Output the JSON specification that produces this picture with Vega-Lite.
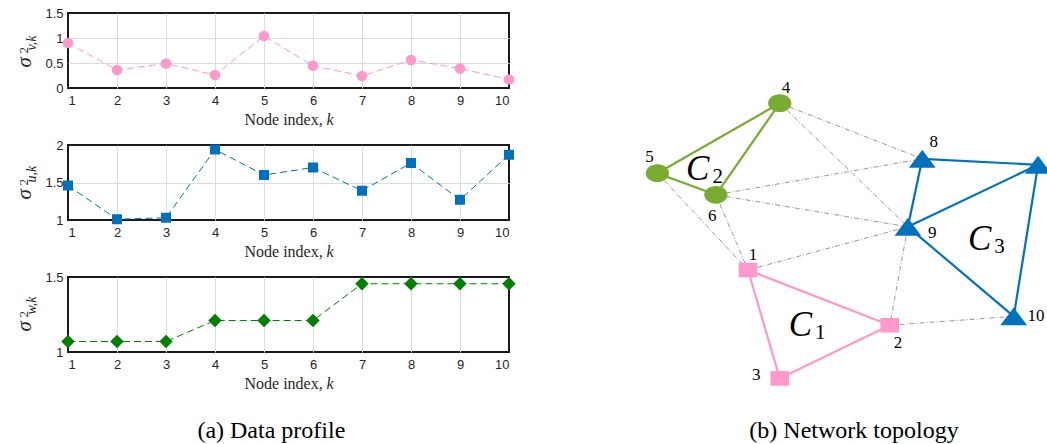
{
  "$schema": "https://vega.github.io/schema/vega-lite/v6.json",
  "padding": {"left": 12, "top": 6, "right": 0, "bottom": 0},
  "spacing": 121,
  "datasets": {
    "profile": [
      {"k": 1, "v": 0.90, "u": 1.46, "w": 1.07},
      {"k": 2, "v": 0.36, "u": 1.01, "w": 1.07},
      {"k": 3, "v": 0.49, "u": 1.03, "w": 1.07},
      {"k": 4, "v": 0.26, "u": 1.94, "w": 1.21},
      {"k": 5, "v": 1.04, "u": 1.60, "w": 1.21},
      {"k": 6, "v": 0.445, "u": 1.70, "w": 1.21},
      {"k": 7, "v": 0.24, "u": 1.39, "w": 1.455},
      {"k": 8, "v": 0.56, "u": 1.76, "w": 1.455},
      {"k": 9, "v": 0.39, "u": 1.27, "w": 1.455},
      {"k": 10, "v": 0.17, "u": 1.87, "w": 1.455}
    ],
    "nodes": [
      {"id": "1", "x": 2.67, "y": 3.25, "c": "C1", "lx": 2.79, "ly": 3.63},
      {"id": "2", "x": 6.11, "y": 1.87, "c": "C1", "lx": 6.31, "ly": 1.42},
      {"id": "3", "x": 3.44, "y": 0.54, "c": "C1", "lx": 2.87, "ly": 0.63},
      {"id": "4", "x": 3.44, "y": 7.42, "c": "C2", "lx": 3.59, "ly": 7.80},
      {"id": "5", "x": 0.47, "y": 5.67, "c": "C2", "lx": 0.28, "ly": 6.08},
      {"id": "6", "x": 1.89, "y": 5.13, "c": "C2", "lx": 1.80, "ly": 4.60},
      {"id": "7", "x": 9.71, "y": 5.88, "c": "C3", "lx": 10.05, "ly": 6.30},
      {"id": "8", "x": 6.90, "y": 6.03, "c": "C3", "lx": 7.18, "ly": 6.46},
      {"id": "9", "x": 6.55, "y": 4.33, "c": "C3", "lx": 7.14, "ly": 4.17},
      {"id": "10", "x": 9.12, "y": 2.09, "c": "C3", "lx": 9.66, "ly": 2.11}
    ],
    "edges": [
      {"s": "1", "t": "2", "g": "C1"},
      {"s": "2", "t": "3", "g": "C1"},
      {"s": "3", "t": "1", "g": "C1"},
      {"s": "4", "t": "5", "g": "C2"},
      {"s": "5", "t": "6", "g": "C2"},
      {"s": "6", "t": "4", "g": "C2"},
      {"s": "8", "t": "7", "g": "C3"},
      {"s": "7", "t": "9", "g": "C3"},
      {"s": "9", "t": "8", "g": "C3"},
      {"s": "9", "t": "10", "g": "C3"},
      {"s": "10", "t": "7", "g": "C3"},
      {"s": "4", "t": "8", "g": "X"},
      {"s": "4", "t": "9", "g": "X"},
      {"s": "6", "t": "8", "g": "X"},
      {"s": "6", "t": "9", "g": "X"},
      {"s": "5", "t": "1", "g": "X"},
      {"s": "6", "t": "1", "g": "X"},
      {"s": "1", "t": "9", "g": "X"},
      {"s": "9", "t": "2", "g": "X"},
      {"s": "2", "t": "10", "g": "X"}
    ],
    "clusters": [
      {"c": "1", "x": 3.94, "y": 1.87},
      {"c": "2", "x": 1.45, "y": 5.78},
      {"c": "3", "x": 8.29, "y": 4.02}
    ]
  },
  "hconcat": [
    {
      "bounds": "flush",
      "spacing": 57,
      "title": {"text": "(a) Data profile", "orient": "bottom", "anchor": "middle", "offset": 46, "dx": 7, "baseline": "alphabetic"},
      "vconcat": [
        {
          "width": 441, "height": 75,
          "data": {"name": "profile"},
          "layer": [
            {"mark": {"type": "line", "color": "#ff99cc", "strokeWidth": 1, "strokeDash": [7, 4]},
             "encoding": {
               "x": {"field": "k", "type": "quantitative", "scale": {"domain": [1, 10], "nice": false, "zero": false},
                 "axis": {"orient": "bottom", "values": [1, 2, 3, 4, 5, 6, 7, 8, 9, 10], "grid": true, "gridOpacity": {"condition": {"test": "datum.value === 1 || datum.value === 10", "value": 0}, "value": 1}, "labelPadding": 6, "title": "Node index,", "titleX": 176, "titleAlign": "left", "titleY": 36, "titleBaseline": "alphabetic", "titleFontSize": 16}},
               "y": {"field": "v", "type": "quantitative", "scale": {"domain": [0, 1.5], "nice": false, "zero": false},
               "axis": {"orient": "left", "values": [0, 0.5, 1, 1.5], "format": ".1~f", "grid": true, "gridOpacity": {"condition": {"test": "datum.value === 0 || datum.value === 1.5", "value": 0}, "value": 1}, "labelPadding": 5, "title": "σ", "titleX": -38, "titleY": 54, "titleAngle": 270, "titleAlign": "left", "titleBaseline": "alphabetic", "titleFontSize": 21, "titleFontStyle": "italic"}}}},
            {"mark": {"type": "point", "shape": "circle", "filled": true, "size": 115, "color": "#ff99cc", "opacity": 1},
             "encoding": {
               "x": {"field": "k", "type": "quantitative", "scale": {"domain": [1, 10], "nice": false, "zero": false}, "axis": null},
               "y": {"field": "v", "type": "quantitative", "scale": {"domain": [0, 1.5], "nice": false, "zero": false},
               "axis": {"orient": "left", "labels": false, "grid": false, "title": "2", "titleX": -41, "titleY": 40, "titleAngle": 270, "titleAlign": "left", "titleBaseline": "alphabetic", "titleFontSize": 13}}}},
            {"mark": {"type": "point", "opacity": 0},
             "encoding": {
               "x": {"field": "k", "type": "quantitative", "scale": {"domain": [1, 10], "nice": false, "zero": false},
                 "axis": {"orient": "bottom", "labels": false, "grid": false, "title": "k", "titleX": 258, "titleAlign": "left", "titleY": 36, "titleBaseline": "alphabetic", "titleFontSize": 16, "titleFontStyle": "italic"}},
               "y": {"field": "v", "type": "quantitative", "scale": {"domain": [0, 1.5], "nice": false, "zero": false},
               "axis": {"orient": "left", "labels": false, "grid": false, "title": "v,k", "titleX": -33, "titleY": 37, "titleAngle": 270, "titleAlign": "left", "titleBaseline": "alphabetic", "titleFontSize": 14, "titleFontStyle": "italic"}}}}
          ],
          "resolve": {"axis": {"x": "independent", "y": "independent"}}
        },
        {
          "width": 441, "height": 75,
          "data": {"name": "profile"},
          "layer": [
            {"mark": {"type": "line", "color": "#0072bd", "strokeWidth": 1, "strokeDash": [7, 4]},
             "encoding": {
               "x": {"field": "k", "type": "quantitative", "scale": {"domain": [1, 10], "nice": false, "zero": false},
                 "axis": {"orient": "bottom", "values": [1, 2, 3, 4, 5, 6, 7, 8, 9, 10], "grid": true, "gridOpacity": {"condition": {"test": "datum.value === 1 || datum.value === 10", "value": 0}, "value": 1}, "labelPadding": 6, "title": "Node index,", "titleX": 176, "titleAlign": "left", "titleY": 36, "titleBaseline": "alphabetic", "titleFontSize": 16}},
               "y": {"field": "u", "type": "quantitative", "scale": {"domain": [1, 2], "nice": false, "zero": false},
               "axis": {"orient": "left", "values": [1, 1.5, 2], "format": ".1~f", "grid": true, "gridOpacity": {"condition": {"test": "datum.value === 1 || datum.value === 2", "value": 0}, "value": 1}, "labelPadding": 5, "title": "σ", "titleX": -38, "titleY": 54, "titleAngle": 270, "titleAlign": "left", "titleBaseline": "alphabetic", "titleFontSize": 21, "titleFontStyle": "italic"}}}},
            {"mark": {"type": "point", "shape": "square", "filled": true, "size": 100, "color": "#0072bd", "opacity": 1},
             "encoding": {
               "x": {"field": "k", "type": "quantitative", "scale": {"domain": [1, 10], "nice": false, "zero": false}, "axis": null},
               "y": {"field": "u", "type": "quantitative", "scale": {"domain": [1, 2], "nice": false, "zero": false},
               "axis": {"orient": "left", "labels": false, "grid": false, "title": "2", "titleX": -41, "titleY": 40, "titleAngle": 270, "titleAlign": "left", "titleBaseline": "alphabetic", "titleFontSize": 13}}}},
            {"mark": {"type": "point", "opacity": 0},
             "encoding": {
               "x": {"field": "k", "type": "quantitative", "scale": {"domain": [1, 10], "nice": false, "zero": false},
                 "axis": {"orient": "bottom", "labels": false, "grid": false, "title": "k", "titleX": 258, "titleAlign": "left", "titleY": 36, "titleBaseline": "alphabetic", "titleFontSize": 16, "titleFontStyle": "italic"}},
               "y": {"field": "u", "type": "quantitative", "scale": {"domain": [1, 2], "nice": false, "zero": false},
               "axis": {"orient": "left", "labels": false, "grid": false, "title": "u,k", "titleX": -33, "titleY": 37, "titleAngle": 270, "titleAlign": "left", "titleBaseline": "alphabetic", "titleFontSize": 14, "titleFontStyle": "italic"}}}}
          ],
          "resolve": {"axis": {"x": "independent", "y": "independent"}}
        },
        {
          "width": 441, "height": 75,
          "data": {"name": "profile"},
          "layer": [
            {"mark": {"type": "line", "color": "#008000", "strokeWidth": 1, "strokeDash": [7, 4]},
             "encoding": {
               "x": {"field": "k", "type": "quantitative", "scale": {"domain": [1, 10], "nice": false, "zero": false},
                 "axis": {"orient": "bottom", "values": [1, 2, 3, 4, 5, 6, 7, 8, 9, 10], "grid": true, "gridOpacity": {"condition": {"test": "datum.value === 1 || datum.value === 10", "value": 0}, "value": 1}, "labelPadding": 6, "title": "Node index,", "titleX": 176, "titleAlign": "left", "titleY": 36, "titleBaseline": "alphabetic", "titleFontSize": 16}},
               "y": {"field": "w", "type": "quantitative", "scale": {"domain": [1, 1.5], "nice": false, "zero": false},
               "axis": {"orient": "left", "values": [1, 1.5], "format": ".1~f", "grid": false, "labelPadding": 5, "title": "σ", "titleX": -38, "titleY": 54, "titleAngle": 270, "titleAlign": "left", "titleBaseline": "alphabetic", "titleFontSize": 21, "titleFontStyle": "italic"}}}},
            {"mark": {"type": "point", "shape": "diamond", "filled": true, "size": 180, "color": "#008000", "opacity": 1},
             "encoding": {
               "x": {"field": "k", "type": "quantitative", "scale": {"domain": [1, 10], "nice": false, "zero": false}, "axis": null},
               "y": {"field": "w", "type": "quantitative", "scale": {"domain": [1, 1.5], "nice": false, "zero": false},
               "axis": {"orient": "left", "labels": false, "grid": false, "title": "2", "titleX": -41, "titleY": 40, "titleAngle": 270, "titleAlign": "left", "titleBaseline": "alphabetic", "titleFontSize": 13}}}},
            {"mark": {"type": "point", "opacity": 0},
             "encoding": {
               "x": {"field": "k", "type": "quantitative", "scale": {"domain": [1, 10], "nice": false, "zero": false},
                 "axis": {"orient": "bottom", "labels": false, "grid": false, "title": "k", "titleX": 258, "titleAlign": "left", "titleY": 36, "titleBaseline": "alphabetic", "titleFontSize": 16, "titleFontStyle": "italic"}},
               "y": {"field": "w", "type": "quantitative", "scale": {"domain": [1, 1.5], "nice": false, "zero": false},
               "axis": {"orient": "left", "labels": false, "grid": false, "title": "w,k", "titleX": -33, "titleY": 37, "titleAngle": 270, "titleAlign": "left", "titleBaseline": "alphabetic", "titleFontSize": 14, "titleFontStyle": "italic"}}}}
          ],
          "resolve": {"axis": {"x": "independent", "y": "independent"}}
        }
      ]
    },
    {
      "width": 412, "height": 387,
      "view": {"stroke": null},
      "title": {"text": "(b) Network topology", "orient": "bottom", "anchor": "middle", "offset": 38, "dx": 10, "baseline": "alphabetic"},
      "layer": [
        {
          "data": {"name": "edges"},
          "transform": [
            {"filter": "datum.g === 'X'"},
            {"lookup": "s", "from": {"data": {"name": "nodes"}, "key": "id", "fields": ["x", "y"]}, "as": ["sx", "sy"]},
            {"lookup": "t", "from": {"data": {"name": "nodes"}, "key": "id", "fields": ["x", "y"]}, "as": ["tx", "ty"]}
          ],
          "mark": {"type": "rule", "color": "#7f7f7f", "strokeWidth": 0.8, "strokeDash": [5, 2, 1, 2], "clip": true},
          "encoding": {
            "x": {"field": "sx", "type": "quantitative", "scale": {"domain": [0, 10], "nice": false, "zero": false}, "axis": null},
            "y": {"field": "sy", "type": "quantitative", "scale": {"domain": [0, 9.675], "nice": false, "zero": false}, "axis": null},
            "x2": {"field": "tx"},
            "y2": {"field": "ty"}
          }
        },
        {
          "data": {"name": "edges"},
          "transform": [
            {"filter": "datum.g !== 'X'"},
            {"lookup": "s", "from": {"data": {"name": "nodes"}, "key": "id", "fields": ["x", "y"]}, "as": ["sx", "sy"]},
            {"lookup": "t", "from": {"data": {"name": "nodes"}, "key": "id", "fields": ["x", "y"]}, "as": ["tx", "ty"]}
          ],
          "mark": {"type": "rule", "strokeWidth": 2.2, "clip": true},
          "encoding": {
            "x": {"field": "sx", "type": "quantitative", "scale": {"domain": [0, 10], "nice": false, "zero": false}, "axis": null},
            "y": {"field": "sy", "type": "quantitative", "scale": {"domain": [0, 9.675], "nice": false, "zero": false}, "axis": null},
            "x2": {"field": "tx"},
            "y2": {"field": "ty"},
            "color": {"field": "g", "type": "nominal", "scale": {"domain": ["C1", "C2", "C3"], "range": ["#ff99cc", "#77ac30", "#0072bd"]}, "legend": null}
          }
        },
        {
          "data": {"name": "nodes"},
          "transform": [{"filter": "datum.c === 'C1'"}],
          "mark": {"type": "point", "shape": "M-1,-0.78H1V0.78H-1Z", "size": 350, "filled": true, "color": "#ff99cc", "opacity": 1, "clip": true},
          "encoding": {
            "x": {"field": "x", "type": "quantitative", "scale": {"domain": [0, 10], "nice": false, "zero": false}, "axis": null},
            "y": {"field": "y", "type": "quantitative", "scale": {"domain": [0, 9.675], "nice": false, "zero": false}, "axis": null}
          }
        },
        {
          "data": {"name": "nodes"},
          "transform": [{"filter": "datum.c === 'C2'"}],
          "mark": {"type": "point", "shape": "M-1,0A1,0.76,0,1,0,1,0A1,0.76,0,1,0,-1,0Z", "size": 540, "filled": true, "color": "#77ac30", "opacity": 1, "clip": true},
          "encoding": {
            "x": {"field": "x", "type": "quantitative", "scale": {"domain": [0, 10], "nice": false, "zero": false}, "axis": null},
            "y": {"field": "y", "type": "quantitative", "scale": {"domain": [0, 9.675], "nice": false, "zero": false}, "axis": null}
          }
        },
        {
          "data": {"name": "nodes"},
          "transform": [{"filter": "datum.c === 'C3'"}],
          "mark": {"type": "point", "shape": "M0,-0.67L1,0.67L-1,0.67Z", "size": 713, "filled": true, "color": "#0072bd", "opacity": 1, "clip": true},
          "encoding": {
            "x": {"field": "x", "type": "quantitative", "scale": {"domain": [0, 10], "nice": false, "zero": false}, "axis": null},
            "y": {"field": "y", "type": "quantitative", "scale": {"domain": [0, 9.675], "nice": false, "zero": false}, "axis": null}
          }
        },
        {
          "data": {"name": "nodes"},
          "mark": {"type": "text", "font": "Liberation Serif", "fontSize": 17, "baseline": "middle", "align": "center", "color": "#000000", "clip": true},
          "encoding": {
            "x": {"field": "lx", "type": "quantitative", "scale": {"domain": [0, 10], "nice": false, "zero": false}, "axis": null},
            "y": {"field": "ly", "type": "quantitative", "scale": {"domain": [0, 9.675], "nice": false, "zero": false}, "axis": null},
            "text": {"field": "id"}
          }
        },
        {
          "data": {"name": "clusters"},
          "mark": {"type": "text", "text": "C", "font": "Liberation Serif", "fontStyle": "italic", "fontSize": 35, "baseline": "middle", "align": "center", "color": "#000000", "clip": true},
          "encoding": {
            "x": {"field": "x", "type": "quantitative", "scale": {"domain": [0, 10], "nice": false, "zero": false}, "axis": null},
            "y": {"field": "y", "type": "quantitative", "scale": {"domain": [0, 9.675], "nice": false, "zero": false}, "axis": null}
          }
        },
        {
          "data": {"name": "clusters"},
          "mark": {"type": "text", "font": "Liberation Serif", "fontSize": 21, "baseline": "middle", "align": "center", "dx": 20, "dy": 8, "color": "#000000", "clip": true},
          "encoding": {
            "x": {"field": "x", "type": "quantitative", "scale": {"domain": [0, 10], "nice": false, "zero": false}, "axis": null},
            "y": {"field": "y", "type": "quantitative", "scale": {"domain": [0, 9.675], "nice": false, "zero": false}, "axis": null},
            "text": {"field": "c"}
          }
        }
      ]
    }
  ],
  "config": {
    "background": "#ffffff",
    "view": {"stroke": "#1a1a1a", "strokeWidth": 2},
    "axis": {
      "labelFont": "Liberation Sans", "labelFontSize": 13, "labelColor": "#262626",
      "titleFont": "Liberation Serif", "titleFontWeight": "normal", "titleColor": "#262626",
      "gridColor": "#dcdcdc", "gridWidth": 1, "domain": false, "ticks": false
    },
    "title": {"font": "Liberation Serif", "fontSize": 24, "fontWeight": "normal", "color": "#000000"}
  }
}
